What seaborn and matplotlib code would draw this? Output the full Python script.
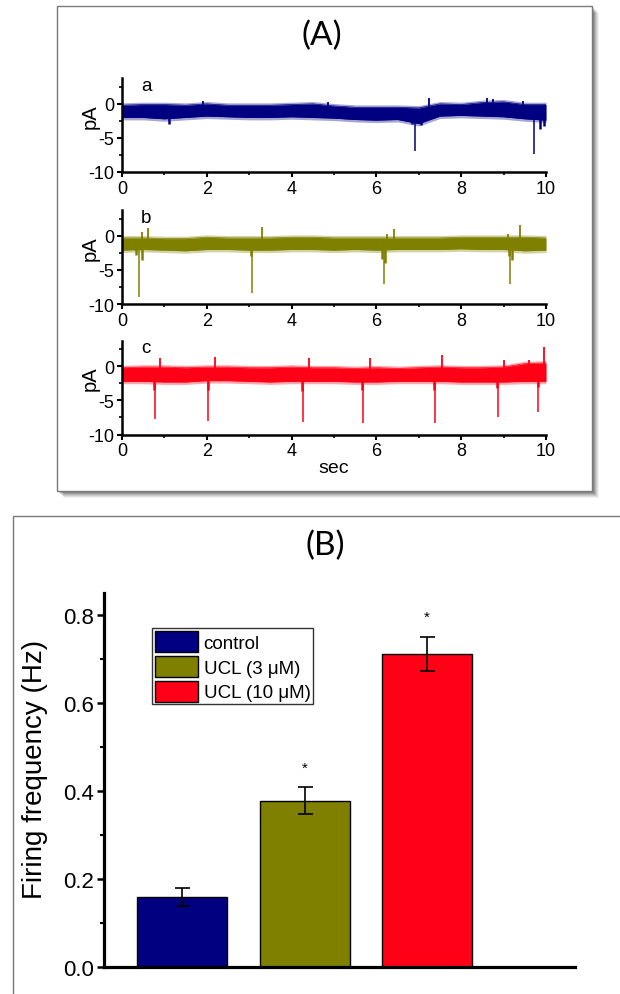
import numpy as np
import pandas as pd
import matplotlib
matplotlib.use("Agg")
import matplotlib.pyplot as plt
from matplotlib.patches import Rectangle, Patch
from matplotlib.ticker import MultipleLocator, FormatStrFormatter
import seaborn as sns

# ---------------- Panel A: current traces ----------------
t_env = [0.0, 0.5, 1.0, 1.5, 2.0, 2.5, 3.0, 3.5, 4.0, 4.5, 5.0,
         5.5, 6.0, 6.5, 7.0, 7.5, 8.0, 8.5, 9.0, 9.5, 10.0]

# trace a (control) noise band: upper / lower envelope (pA)
top_a = [-0.2, -0.1, -0.1, -0.2, 0.0, -0.2, -0.2, -0.2, -0.1, 0.0, -0.3,
         -0.5, -0.5, -0.5, -0.6, 0.0, -0.1, 0.2, 0.3, -0.1, -0.1]
bot_a = [-2.0, -2.0, -2.2, -2.0, -1.8, -1.9, -2.0, -2.0, -1.9, -2.0, -2.1,
         -2.3, -2.4, -2.3, -2.9, -1.8, -1.7, -1.8, -1.9, -2.2, -2.4]
spk_t_a = [6.91, 9.72]
spk_v_a = [-6.9, -7.3]
dip_t_a = [1.1, 6.85, 7.05, 9.85, 9.95]
dip_v_a = [-2.9, -3.0, -3.1, -3.7, -3.2]
up_t_a = [1.9, 4.85, 7.23, 8.6, 8.75, 9.45]
up_v_a = [0.4, 0.3, 0.9, 0.8, 0.7, 0.4]

# trace b (UCL 3 uM)
top_b = [-0.3, -0.3, -0.4, -0.4, -0.2, -0.3, -0.3, -0.3, -0.2, -0.2, -0.3,
         -0.3, -0.3, -0.3, -0.3, -0.3, -0.2, -0.2, -0.2, -0.2, -0.3]
bot_b = [-2.1, -2.0, -2.1, -2.2, -2.0, -2.0, -2.1, -2.1, -2.0, -2.0, -2.1,
         -2.0, -2.1, -2.0, -2.0, -2.0, -1.9, -2.0, -2.0, -2.2, -2.1]
spk_t_b = [0.40, 3.07, 6.17, 9.15]
spk_v_b = [-9.0, -8.4, -7.0, -7.1]
dip_t_b = [0.32, 0.47, 3.05, 6.13, 6.21, 9.12, 9.20]
dip_v_b = [-2.8, -3.5, -3.0, -3.4, -4.0, -3.0, -3.5]
up_t_b = [0.48, 0.62, 3.30, 6.25, 6.42, 9.10, 9.39]
up_v_b = [0.5, 1.2, 1.3, 0.3, 1.0, 0.3, 1.6]

# trace c (UCL 10 uM)
top_c = [-0.2, -0.1, -0.1, -0.2, -0.1, -0.1, -0.2, -0.2, -0.1, -0.2, -0.2,
         -0.3, -0.2, -0.3, -0.2, -0.1, -0.2, -0.2, -0.1, 0.4, 0.5]
bot_c = [-2.2, -2.2, -2.3, -2.3, -2.1, -2.1, -2.2, -2.3, -2.2, -2.2, -2.2,
         -2.3, -2.3, -2.2, -2.2, -2.2, -2.3, -2.3, -2.3, -2.2, -2.2]
spk_t_c = [0.77, 2.04, 4.26, 5.69, 7.39, 8.86, 9.82]
spk_v_c = [-7.7, -8.0, -8.1, -8.3, -8.3, -7.5, -6.7]
dip_t_c = [0.75, 2.02, 4.24, 5.67, 7.37, 8.84, 9.80]
dip_v_c = [-3.4, -3.5, -3.6, -3.4, -3.5, -3.2, -3.0]
up_t_c = [0.90, 2.20, 4.40, 5.85, 7.54, 9.02, 9.6, 9.95]
up_v_c = [1.3, 1.4, 1.3, 1.3, 1.6, 1.0, 0.9, 2.9]

trace_letters = ["a", "b", "c"]
x_ticks_A = [0, 2, 4, 6, 8, 10]
y_ticks_A = [-10, -5, 0]

# ---------------- Panel B: firing frequency ----------------
groups = ["control", "UCL (3 μM)", "UCL (10 μM)"]
freq = [0.159, 0.378, 0.711]
sem = [0.020, 0.030, 0.039]
significant = [False, True, True]
y_ticks_B = [0.0, 0.2, 0.4, 0.6, 0.8]

colors = ["#000080", "#808000", "#ff0016"]

# ---------------- style ----------------
sns.set_theme(style="ticks")
plt.rcParams["font.family"] = ["Liberation Sans", "DejaVu Sans"]
plt.rcParams["axes.edgecolor"] = "black"
plt.rcParams["xtick.color"] = "black"
plt.rcParams["ytick.color"] = "black"
plt.rcParams["text.color"] = "black"
plt.rcParams["axes.labelcolor"] = "black"

W, H = 620, 995
fig = plt.figure(figsize=(W / 100, H / 100), dpi=100)
fig.patch.set_facecolor("white")


def fx(px):
    return px / W


def fy(py):
    return 1 - py / H


# ---- panel boxes ----
bx0, by0, bx1, by1 = 57, 7, 592, 492
for i, a in enumerate([0.05, 0.07, 0.09, 0.11, 0.13, 0.15]):
    off = 7 - i
    fig.patches.append(Rectangle((fx(bx0 + off), fy(by1 + off)), fx(bx1 - bx0), (by1 - by0) / H,
                                 transform=fig.transFigure, facecolor="black", alpha=a,
                                 edgecolor="none", zorder=-3))
fig.patches.append(Rectangle((fx(bx0), fy(by1)), fx(bx1 - bx0), (by1 - by0) / H,
                             transform=fig.transFigure, facecolor="white",
                             edgecolor="#7a7a7a", lw=1.0, zorder=-2))
fig.patches.append(Rectangle((fx(13), fy(1010)), fx(700), (1010 - 517) / H,
                             transform=fig.transFigure, facecolor="white",
                             edgecolor="#7a7a7a", lw=1.0, zorder=-2))

fig.text(fx(322), fy(36), "(A)", fontsize=24, ha="center", va="center", family=["Lato", "DejaVu Sans"])
fig.text(fx(325), fy(546), "(B)", fontsize=24, ha="center", va="center", family=["Lato", "DejaVu Sans"])

# ---- panel A axes ----
traces = [
    (top_a, bot_a, spk_t_a, spk_v_a, dip_t_a, dip_v_a, up_t_a, up_v_a),
    (top_b, bot_b, spk_t_b, spk_v_b, dip_t_b, dip_v_b, up_t_b, up_v_b),
    (top_c, bot_c, spk_t_c, spk_v_c, dip_t_c, dip_v_c, up_t_c, up_v_c),
]
bottoms_px = [173, 305, 435.5]
ax_h_px = 94
for k, (tr, bpx) in enumerate(zip(traces, bottoms_px)):
    top, bot, st, sv, dt, dv, ut, uv = tr
    ax = fig.add_axes([fx(122), fy(bpx), fx(424), ax_h_px / H])
    ax.set_facecolor("none")
    ax.set_zorder(2)
    col = colors[k]
    # soft fringe of the noise band
    ax.fill_between(t_env, [b - 0.35 for b in bot], [t + 0.35 for t in top],
                    color=col, alpha=0.35, lw=0, zorder=1.5)
    ax.fill_between(t_env, bot, top, color=col, lw=0, zorder=2)
    sns.lineplot(x=t_env, y=top, color=col, lw=0.5, ax=ax, zorder=2)
    sns.lineplot(x=t_env, y=bot, color=col, lw=0.5, ax=ax, zorder=2)
    ax.vlines(dt, -1.0, dv, color=col, lw=1.8, zorder=3)
    ax.vlines(st, -1.0, sv, color=col, lw=1.1, zorder=3)
    ax.vlines(ut, -1.0, uv, color=col, lw=1.3, zorder=3)
    ax.set_xlim(0, 10)
    ax.set_ylim(-10, 3.8)
    ax.set_xticks(x_ticks_A)
    ax.set_xticklabels([str(v) for v in x_ticks_A])
    ax.set_yticks(y_ticks_A)
    ax.set_yticklabels([str(v) for v in y_ticks_A])
    ax.xaxis.set_minor_locator(MultipleLocator(1))
    ax.yaxis.set_minor_locator(MultipleLocator(2.5))
    for s in ["top", "right"]:
        ax.spines[s].set_visible(False)
    for s in ["left", "bottom"]:
        ax.spines[s].set_linewidth(1.8)
    ax.tick_params(which="major", length=3.5, width=1.5, labelsize=13, pad=2)
    ax.tick_params(which="minor", length=2, width=1.2)
    ax.set_ylabel("pA", fontsize=14.5)
    ax.yaxis.set_label_coords(-0.052, 0.6)
    ax.set_xlabel("")
    ax.text(0.45, 2.7, trace_letters[k], fontsize=13.5, ha="left", va="center")
    if k == 2:
        ax.set_xlabel("sec", fontsize=14, labelpad=0)

# ---- panel B ----
axB = fig.add_axes([fx(104), fy(968), fx(471), (968 - 594) / H])
axB.set_facecolor("none")
axB.set_zorder(2)
df = pd.DataFrame({"group": groups, "freq": freq})
sns.barplot(data=df, x="group", y="freq", hue="group", palette=colors, width=0.735,
            saturation=1, edgecolor="black", linewidth=1.0, ax=axB, legend=False, zorder=2)
axB.errorbar(x=list(range(len(groups))), y=freq, yerr=sem, fmt="none", ecolor="black",
             elinewidth=1.2, capsize=5.4, capthick=1.2, zorder=3)
for i, (m, e, sig) in enumerate(zip(freq, sem, significant)):
    if sig:
        axB.text(i, m + e + 0.045, "*", ha="center", va="center", fontsize=11)

axB.set_xlim(-0.637, 3.208)
axB.set_ylim(0, 0.85)
axB.set_xticks([])
axB.set_xlabel("")
axB.set_yticks(y_ticks_B)
axB.yaxis.set_major_formatter(FormatStrFormatter("%.1f"))
axB.yaxis.set_minor_locator(MultipleLocator(0.1))
for s in ["top", "right"]:
    axB.spines[s].set_visible(False)
for s in ["left", "bottom"]:
    axB.spines[s].set_linewidth(2.3)
axB.tick_params(axis="y", which="major", length=5, width=1.8, labelsize=16, pad=2)
axB.tick_params(axis="y", which="minor", length=3, width=1.5)
axB.set_ylabel("Firing frequency (Hz)", fontsize=20)
axB.yaxis.set_label_coords(-0.118, 0.53)

handles = [Patch(facecolor=c, edgecolor="black", lw=1.0) for c in colors]
leg = axB.legend(handles, groups, loc="upper left", bbox_to_anchor=(0.102, 0.906),
                 fontsize=13.5, frameon=True, fancybox=False, edgecolor="black",
                 handlelength=2.3, handleheight=1.35, labelspacing=0.2,
                 borderpad=0.15, handletextpad=0.3, borderaxespad=0.0)
leg.get_frame().set_linewidth(1.0)

fig.savefig("out.png", dpi=100, facecolor="white")
